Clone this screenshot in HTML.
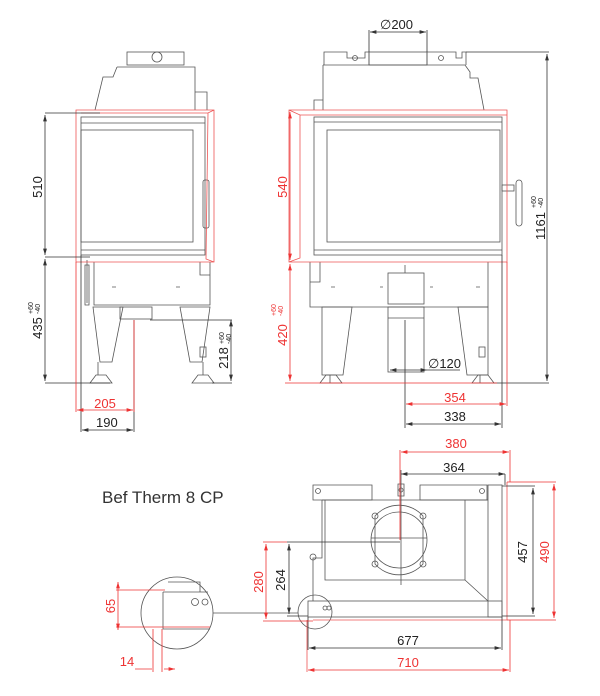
<!DOCTYPE html>
<html><head><style>
body{margin:0;background:#fff}
svg{display:block}
text{font-family:"Liberation Sans",sans-serif}
</style></head><body>
<svg width="600" height="696" viewBox="0 0 600 696" xmlns="http://www.w3.org/2000/svg">
<defs>
<marker id="ab" viewBox="0 0 10 6" refX="10" refY="3" markerWidth="8" markerHeight="5" orient="auto-start-reverse"><path d="M0,0L10,3L0,6z" fill="#333"/></marker>
<marker id="ar" viewBox="0 0 10 6" refX="10" refY="3" markerWidth="8" markerHeight="5" orient="auto-start-reverse"><path d="M0,0L10,3L0,6z" fill="#e33"/></marker>
</defs>
<g fill="none" stroke="#555" stroke-width="0.8">
<rect x="127" y="52" width="57" height="13"/>
<circle cx="157" cy="57" r="5"/>
<path d="M117,67H195V110M117,67L113,77H103L95,110M195,92H207V110"/>
<rect x="81" y="117" width="124" height="138"/>
<rect x="81" y="130" width="112" height="112"/>
<path d="M81,123H205M81,250H205"/>
<rect x="203" y="180" width="6" height="48" rx="2"/>
<path d="M94,262V305H210V262M200,262V275H210M94,305H210"/>
<path d="M112,287h4M176,287h4"/>
<path d="M87,260V303M85,265h4v40h-4z"/>
<path d="M93,307L123,307L112,362H100ZM180,307L210,307L202,362L190,362Z"/>
<path d="M98,362V375M203,362V375M90,383L96,375H106L112,383ZM192,383L198,375H208L214,383Z"/>
<rect x="120" y="307" width="32" height="12"/>
<rect x="200" y="347" width="6" height="10"/>
<path d="M324,65V52H347V58H365V52H369V65M427,65V52H456V58H462V52H466V65"/>
<rect x="369" y="52" width="58" height="13"/>
<circle cx="355" cy="58" r="2.5"/><circle cx="441" cy="58" r="2.5"/>
<path d="M323,65H465L470,72V78H478L484,110M323,65V110M323,100H314V110"/>
<rect x="314" y="117" width="188" height="138"/>
<rect x="327" y="130" width="173" height="112"/>
<path d="M314,122H502M314,250H502"/>
<rect x="502" y="185" width="12" height="6"/>
<rect x="516" y="180" width="6" height="46" rx="3"/>
<path d="M310,262V307H488V262M310,282H320V262M310,307H488"/>
<path d="M331,287h4M380,287h3M430,287h3M476,287h4"/>
<rect x="388" y="273" width="36" height="31"/>
<path d="M405,265V273"/>
<path d="M322,307L352,307L343,375H322ZM458,307L488,307L488,375L467,375Z"/>
<rect x="388" y="307" width="36" height="65"/>
<path d="M388,318H424"/>
<path d="M330,375V383M480,375V383M320,383L326,375H336L342,383ZM472,383L478,375H488L494,383Z"/>
<rect x="479" y="347" width="6" height="10"/>
<path d="M313,485H372V500H313ZM420,485H487V500H420Z"/>
<path d="M398,484H404V496H398Z"/>
<circle cx="318" cy="491" r="2.5"/><circle cx="482" cy="491" r="2.5"/><circle cx="401" cy="490" r="2"/>
<path d="M322,500H488M322,500V558H313V601M325,500V580H465M465,500V580L488,601"/>
<rect x="488" y="485" width="14" height="132"/>
<rect x="308" y="601" width="194" height="16"/>
<circle cx="399" cy="540" r="28"/>
<path d="M375,516A32,32 0 0 1 423,516 L423,564 A32,32 0 0 1 375,564Z"/>
<circle cx="375" cy="516" r="3"/><circle cx="423" cy="516" r="3"/><circle cx="375" cy="564" r="3"/><circle cx="423" cy="564" r="3"/>
<path d="M371,538H427M401,470V585"/>
<circle cx="315" cy="612" r="17"/>
<circle cx="325" cy="608" r="2"/><circle cx="329" cy="608" r="2"/>
<circle cx="313" cy="557" r="3"/>
<circle cx="177" cy="613" r="36"/>
<path d="M163,592V629H210M163,592H208M168,582H200V592"/>
<circle cx="195" cy="602" r="3.5"/><circle cx="205" cy="602" r="3"/>
<path d="M213,613H298"/>
</g>
<g fill="none" stroke="#e55" stroke-width="0.8">
<path d="M76,110H214V262H76ZM81,113H208L214,110M208,113L206,259L214,262"/>
<path d="M289,110H507V262H289ZM289,110L300,115H507M300,115V258L289,262"/>
<path d="M313,620H507V482M307,620V672"/>
</g>
<g stroke="#333" stroke-width="0.8" fill="none">
<path d="M45,113H100M45,257H90M45,383H110M45,383H95"/>
<path d="M45,115V255" marker-start="url(#ab)" marker-end="url(#ab)"/>
<path d="M45,259V381" marker-start="url(#ab)" marker-end="url(#ab)"/>
<path d="M231,320V381" marker-start="url(#ab)" marker-end="url(#ab)"/>
<path d="M150,320H232M212,383H232"/>
<path d="M81,255V432M134,320V432"/>
<path d="M82,430H133" marker-start="url(#ab)" marker-end="url(#ab)"/>
<path d="M369,30V52M427,30V52"/>
<path d="M370,32H426" marker-start="url(#ab)" marker-end="url(#ab)"/>
<path d="M466,52H549M494,383H549"/>
<path d="M547,54V381" marker-start="url(#ab)" marker-end="url(#ab)"/>
<path d="M390,370H427" marker-start="url(#ab)" marker-end="url(#ab)"/>
<path d="M427,370H460"/>
<path d="M405,320V428M502,255V428"/>
<path d="M406,424H501" marker-start="url(#ab)" marker-end="url(#ab)"/>
<path d="M401,474H505" marker-start="url(#ab)" marker-end="url(#ab)"/>
<path d="M505,474V485"/>
<path d="M502,486H535M502,616H535"/>
<path d="M533,488V614" marker-start="url(#ab)" marker-end="url(#ab)"/>
<path d="M287,542H400M287,616H308"/>
<path d="M289,544V614" marker-start="url(#ab)" marker-end="url(#ab)"/>
<path d="M308,617V650M502,617V650"/>
<path d="M309,648H501" marker-start="url(#ab)" marker-end="url(#ab)"/>
</g>
<g stroke="#e33" stroke-width="0.8" fill="none">
<path d="M76,262V412M134,320V412"/>
<path d="M77,410H133" marker-start="url(#ar)" marker-end="url(#ar)"/>
<path d="M290,112V260" marker-start="url(#ar)" marker-end="url(#ar)"/>
<path d="M290,264V381" marker-start="url(#ar)" marker-end="url(#ar)"/>
<path d="M285,383H497"/>
<path d="M507,262V406"/>
<path d="M406,404H506" marker-start="url(#ar)" marker-end="url(#ar)"/>
<path d="M400,450V540M510,450V482"/>
<path d="M401,452H509" marker-start="url(#ar)" marker-end="url(#ar)"/>
<path d="M507,482H556M507,620H556"/>
<path d="M554,484V618" marker-start="url(#ar)" marker-end="url(#ar)"/>
<path d="M263,542H287M263,621H313"/>
<path d="M266,544V619" marker-start="url(#ar)" marker-end="url(#ar)"/>
<path d="M510,620V672"/>
<path d="M308,670H509" marker-start="url(#ar)" marker-end="url(#ar)"/>
<path d="M116,590H165M116,627H210"/>
<path d="M118,582V630" marker-start="url(#ar)" marker-end="url(#ar)"/>
<path d="M153,629V672M162,629V672"/>
<path d="M135,669H152M164,669H175" marker-end="url(#ar)"/>
</g>
<g font-size="13" fill="#222">
<text transform="translate(42,187) rotate(-90)" text-anchor="middle">510</text>
<text transform="translate(42,328) rotate(-90)" text-anchor="middle">435</text>
<text transform="translate(33,314) rotate(-90)" font-size="7">+60</text>
<text transform="translate(40,314) rotate(-90)" font-size="7">-40</text>
<text transform="translate(228,358) rotate(-90)" text-anchor="middle">218</text>
<text transform="translate(224,344) rotate(-90)" font-size="7">+60</text>
<text transform="translate(231,344) rotate(-90)" font-size="7">-40</text>
<text x="380" y="29">∅200</text>
<text transform="translate(545,226) rotate(-90)" text-anchor="middle">1161</text>
<text transform="translate(536,208) rotate(-90)" font-size="7">+60</text>
<text transform="translate(543,208) rotate(-90)" font-size="7">-40</text>
<text x="428" y="368">∅120</text>
<text x="455" y="421" text-anchor="middle">338</text>
<text x="454" y="472" text-anchor="middle">364</text>
<text transform="translate(527,552) rotate(-90)" text-anchor="middle">457</text>
<text transform="translate(285,580) rotate(-90)" text-anchor="middle">264</text>
<text x="408" y="645" text-anchor="middle">677</text>
<text x="102" y="503" font-size="17" fill="#333">Bef Therm 8 CP</text>
</g>
<text x="96" y="427" font-size="13" fill="#222">190</text>
<g font-size="13" fill="#e33">
<text x="105" y="408" text-anchor="middle">205</text>
<text transform="translate(287,187) rotate(-90)" text-anchor="middle">540</text>
<text transform="translate(287,335) rotate(-90)" text-anchor="middle">420</text>
<text transform="translate(276,316) rotate(-90)" font-size="7">+60</text>
<text transform="translate(283,316) rotate(-90)" font-size="7">-40</text>
<text x="455" y="402" text-anchor="middle">354</text>
<text x="456" y="448" text-anchor="middle">380</text>
<text transform="translate(549,552) rotate(-90)" text-anchor="middle">490</text>
<text transform="translate(263,582) rotate(-90)" text-anchor="middle">280</text>
<text x="408" y="667" text-anchor="middle">710</text>
<text transform="translate(115,606) rotate(-90)" text-anchor="middle">65</text>
<text x="127" y="666" text-anchor="middle">14</text>
</g>
</svg>
</body></html>
